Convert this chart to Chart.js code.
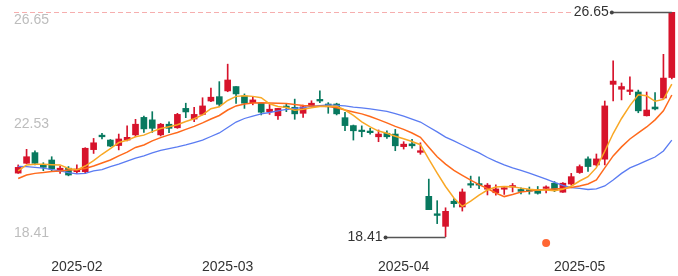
<!DOCTYPE html>
<html><head><meta charset="utf-8">
<script src="https://cdn.jsdelivr.net/npm/chart.js@4.4.1/dist/chart.umd.min.js"></script>
<style>html,body{margin:0;padding:0;background:#fff;}canvas{display:block;}</style>
</head><body>
<canvas id="c" width="678" height="276"></canvas>
<script>
const dates = [
'2025-01-17','2025-01-20','2025-01-21','2025-01-22','2025-01-23','2025-01-24','2025-01-27',
'2025-02-05','2025-02-06','2025-02-07','2025-02-10','2025-02-11','2025-02-12','2025-02-13','2025-02-14',
'2025-02-17','2025-02-18','2025-02-19','2025-02-20','2025-02-21','2025-02-24','2025-02-25','2025-02-26','2025-02-27','2025-02-28',
'2025-03-03','2025-03-04','2025-03-05','2025-03-06','2025-03-07','2025-03-10','2025-03-11','2025-03-12','2025-03-13','2025-03-14',
'2025-03-17','2025-03-18','2025-03-19','2025-03-20','2025-03-21','2025-03-24','2025-03-25','2025-03-26','2025-03-27','2025-03-28','2025-03-31',
'2025-04-01','2025-04-02','2025-04-03','2025-04-07','2025-04-08','2025-04-09','2025-04-10','2025-04-11',
'2025-04-14','2025-04-15','2025-04-16','2025-04-17','2025-04-18','2025-04-21','2025-04-22','2025-04-23','2025-04-24','2025-04-25',
'2025-04-28','2025-04-29','2025-04-30',
'2025-05-06','2025-05-07','2025-05-08','2025-05-09','2025-05-12','2025-05-13','2025-05-14','2025-05-15','2025-05-16',
'2025-05-19','2025-05-20','2025-05-21'];

const opens = [20.75,21.11,21.50,21.07,21.23,20.83,20.93,20.80,20.80,21.61,
22.14,21.96,21.76,21.96,22.15,22.79,22.70,22.15,22.54,22.41,
23.12,22.73,22.90,23.39,23.55,23.76,23.92,23.57,23.33,23.31,
23.00,22.85,23.18,23.16,22.94,23.21,23.45,23.28,23.28,22.78,
22.49,22.32,22.29,22.08,22.21,22.18,21.72,21.82,21.51,19.90,
19.26,18.80,19.72,19.51,20.36,20.33,20.16,20.03,20.16,20.24,
20.15,20.11,20.13,20.19,20.38,20.05,20.35,20.77,21.27,21.05,
21.26,24.00,23.82,23.74,23.72,22.85,23.17,23.50,24.25];

const closes = [20.96,21.35,21.11,20.96,20.90,20.93,20.68,20.90,21.66,21.86,
22.08,21.74,22.00,22.06,22.54,22.37,22.39,22.54,22.39,22.90,
22.99,22.90,23.21,23.53,23.27,24.16,23.65,23.31,23.43,22.98,
23.09,23.12,23.15,22.92,23.18,23.31,23.39,23.18,22.92,22.49,
22.30,22.27,22.23,22.18,22.08,21.75,21.81,21.75,21.57,19.41,
19.20,19.35,19.63,20.06,20.31,20.31,20.31,20.17,20.19,20.26,
20.08,20.09,20.01,20.22,20.11,20.38,20.62,20.99,20.99,21.27,
23.21,24.12,23.92,23.79,23.03,23.06,23.10,24.23,26.65];

const highs = [21.05,21.62,21.57,21.13,21.35,21.01,20.99,21.05,21.68,22.02,
22.21,21.98,22.18,22.48,22.72,22.84,23.00,22.57,22.63,22.94,
23.31,23.16,23.51,23.86,24.10,24.74,23.92,23.65,23.55,23.33,
23.28,23.12,23.28,23.46,23.24,23.40,23.76,23.33,23.31,22.98,
22.51,22.48,22.39,22.33,22.30,22.35,21.90,21.99,21.86,20.53,
19.74,19.48,19.82,20.17,20.64,20.61,20.37,20.32,20.25,20.37,
20.21,20.24,20.26,20.28,20.44,20.40,20.74,21.05,21.35,21.45,
23.39,24.86,24.05,24.28,23.79,23.72,23.70,25.10,26.65];

const lows = [20.74,21.10,21.05,20.84,20.84,20.74,20.65,20.74,20.74,21.47,
22.00,21.72,21.60,21.93,22.08,22.24,22.24,22.11,22.23,22.39,
22.78,22.63,22.88,23.37,23.18,23.73,23.30,23.12,23.25,22.88,
22.90,22.72,23.00,22.72,22.79,23.18,23.33,22.94,22.88,22.30,
21.96,22.08,22.18,21.90,22.02,21.57,21.63,21.66,21.44,19.41,
18.90,18.41,19.50,19.36,20.22,20.18,19.95,19.94,19.97,20.06,
19.99,19.98,19.98,20.02,20.07,20.04,20.31,20.74,20.81,21.01,
21.05,23.39,23.43,23.62,22.96,22.84,23.06,23.46,24.20];

const ma5 = [20.83,21.05,21.07,21.07,21.06,21.05,20.92,20.87,21.01,21.21,
21.44,21.65,21.87,21.95,22.08,22.14,22.27,22.38,22.45,22.52,
22.64,22.74,22.88,23.11,23.18,23.41,23.56,23.58,23.56,23.51,
23.29,23.19,23.15,23.05,23.09,23.14,23.19,23.20,23.20,23.06,
22.86,22.63,22.44,22.29,22.21,22.10,22.01,21.91,21.79,21.26,
20.75,20.26,19.84,19.53,19.72,19.94,20.13,20.24,20.26,20.25,
20.20,20.16,20.13,20.13,20.10,20.16,20.27,20.46,20.62,20.95,
21.55,22.20,22.75,23.22,23.62,23.58,23.38,23.45,24.01];

const ma10 = [20.55,20.68,20.74,20.77,20.81,20.83,20.86,20.87,20.92,21.01,
21.12,21.23,21.38,21.52,21.69,21.78,21.93,22.05,22.15,22.24,
22.35,22.46,22.59,22.73,22.86,23.06,23.21,23.28,23.32,23.33,
23.32,23.31,23.30,23.26,23.23,23.21,23.20,23.19,23.14,23.06,
22.99,22.92,22.82,22.71,22.59,22.46,22.35,22.22,22.06,21.70,
21.35,21.08,20.85,20.67,20.49,20.33,20.18,20.02,19.89,19.97,
20.06,20.09,20.13,20.15,20.17,20.19,20.22,20.28,20.35,20.50,
20.94,21.38,21.71,22.00,22.22,22.44,22.70,23.03,23.61];

const ma20 = [21.00,20.99,20.96,20.93,20.88,20.83,20.77,20.72,20.74,20.83,
20.88,20.99,21.08,21.19,21.30,21.38,21.49,21.58,21.65,21.71,
21.78,21.87,21.96,22.09,22.22,22.42,22.62,22.75,22.84,22.92,
22.97,23.03,23.08,23.12,23.15,23.19,23.22,23.25,23.23,23.21,
23.17,23.14,23.10,23.06,23.01,22.93,22.84,22.73,22.62,22.44,
22.26,22.07,21.93,21.78,21.63,21.49,21.32,21.18,21.05,20.94,
20.85,20.75,20.64,20.53,20.41,20.30,20.22,20.19,20.15,20.17,
20.28,20.50,20.74,20.94,21.07,21.21,21.34,21.56,21.96];

const xTickLabels = ['2025-02','2025-03','2025-04','2025-05'];
const yTickLabels = ['26.65','22.53','18.41'];
const eventDates = ['2025-04-25'];

const UP = '#d7132b', DOWN = '#08795f';
const FONT = '"Liberation Sans", Arial, Helvetica, sans-serif';
const bodies = dates.map((d, i) => [opens[i], closes[i]]);
const wicks = dates.map((d, i) => [lows[i], highs[i]]);
const candleColors = dates.map((d, i) => closes[i] >= opens[i] ? UP : DOWN);
const yMax = Math.max(...highs), yMin = Math.min(...lows);

const overlay = {
  id: 'overlay',
  beforeDatasetsDraw(chart) {
    const {ctx, chartArea: a, scales: {x, y}} = chart;
    ctx.save();
    ctx.fillStyle = '#bdbdbd';
    ctx.font = '14px ' + FONT;
    ctx.textAlign = 'left';
    ctx.textBaseline = 'middle';
    yTickLabels.forEach(l => {
      let py = y.getPixelForValue(parseFloat(l));
      py = Math.min(Math.max(py, a.top + 8), a.bottom - 4);
      ctx.fillText(l, a.left, py);
    });
    // x axis month labels
    ctx.fillStyle = '#333';
    ctx.textAlign = 'center';
    dates.forEach((d, i) => {
      const m = d.slice(0, 7);
      if (i > 0 && dates[i - 1].slice(0, 7) !== m && xTickLabels.includes(m)) {
        ctx.fillText(m, x.getPixelForValue(i), a.bottom + 30);
      }
    });
    ctx.restore();
  },
  afterDatasetsDraw(chart) {
    const {ctx, chartArea: a, scales: {x, y}} = chart;
    ctx.save();
    ctx.font = '14px ' + FONT;
    ctx.textBaseline = 'middle';
    ctx.textAlign = 'right';
    const mark = (idx, val, dashed) => {
      const px = x.getPixelForValue(idx);
      const py = Math.round(y.getPixelForValue(val)) + 0.5;
      const dotX = px - 60;
      const txt = val.toFixed(2);
      const tw = ctx.measureText(txt).width;
      if (dashed) {
        ctx.strokeStyle = 'rgba(240,120,120,0.6)';
        ctx.lineWidth = 1;
        ctx.setLineDash([5, 3]);
        ctx.beginPath();
        ctx.moveTo(a.left, py);
        ctx.lineTo(dotX - tw - 5, py);
        ctx.stroke();
        ctx.setLineDash([]);
      }
      ctx.strokeStyle = '#555';
      ctx.lineWidth = 1.5;
      ctx.beginPath();
      ctx.moveTo(dotX, py);
      ctx.lineTo(px, py);
      ctx.stroke();
      ctx.fillStyle = '#444';
      ctx.beginPath();
      ctx.arc(dotX, py, 2, 0, Math.PI * 2);
      ctx.fill();
      ctx.fillStyle = '#333';
      ctx.fillText(txt, dotX - 3, py);
    };
    mark(highs.indexOf(yMax), yMax, true);
    mark(lows.indexOf(yMin), yMin, false);
    ctx.fillStyle = '#ff6633';
    eventDates.forEach(d => {
      const i = dates.indexOf(d);
      ctx.beginPath();
      ctx.arc(x.getPixelForValue(i), a.bottom + 6, 4, 0, Math.PI * 2);
      ctx.fill();
    });
    ctx.restore();
  }
};

new Chart(document.getElementById('c'), {
  type: 'bar',
  data: {
    labels: dates,
    datasets: [
      {type: 'line', label: 'MA5', data: ma5, borderColor: '#f9a825', borderWidth: 1.5, pointRadius: 0, tension: 0, order: 0},
      {type: 'line', label: 'MA10', data: ma10, borderColor: '#ff6a1c', borderWidth: 1.5, pointRadius: 0, tension: 0, order: 0},
      {type: 'line', label: 'MA20', data: ma20, borderColor: '#5b7cf2', borderWidth: 1.3, pointRadius: 0, tension: 0, order: 0},
      {type: 'bar', label: 'body', data: bodies, backgroundColor: candleColors, barThickness: 6, grouped: false, minBarLength: 1.5, order: 1},
      {type: 'bar', label: 'wick', data: wicks, backgroundColor: candleColors, barThickness: 1, grouped: false, order: 2}
    ]
  },
  options: {
    responsive: false,
    animation: false,
    devicePixelRatio: 1,
    layout: {padding: {left: 14, right: 2, top: 12, bottom: 39}},
    plugins: {legend: {display: false}, tooltip: {enabled: false}},
    scales: {
      x: {display: false, offset: true},
      y: {display: false, min: yMin, max: yMax}
    }
  },
  plugins: [overlay]
});
</script>
</body></html>
